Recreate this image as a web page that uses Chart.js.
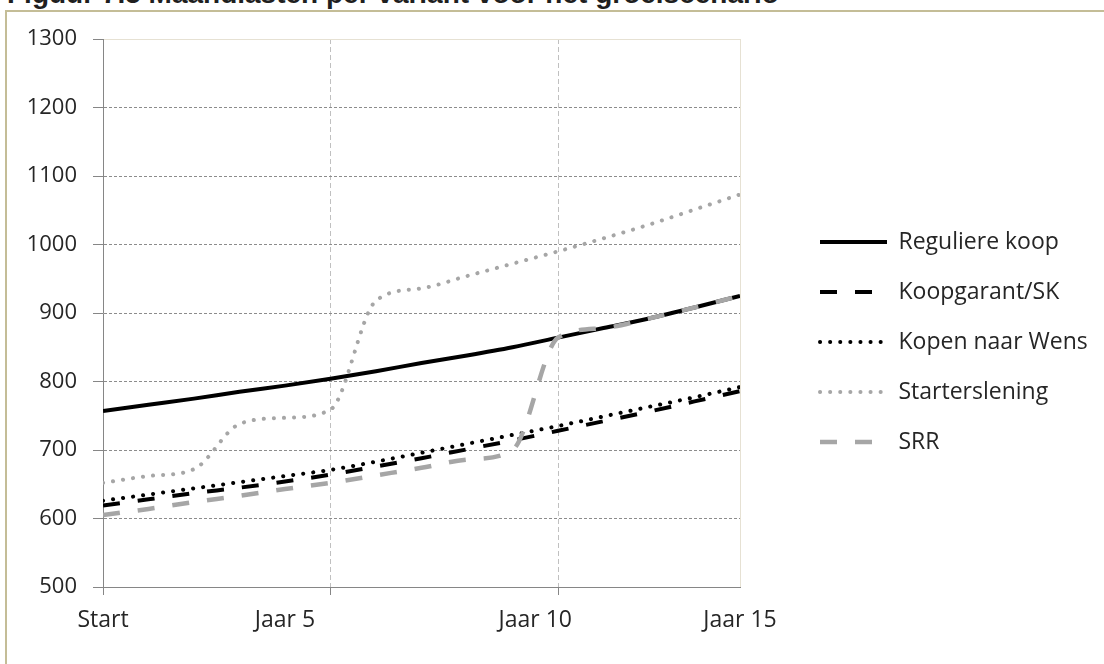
<!DOCTYPE html>
<html>
<head>
<meta charset="utf-8">
<script src="https://cdn.jsdelivr.net/npm/chart.js@4.4.1/dist/chart.umd.min.js"></script>
<style>
  html, body { margin: 0; padding: 0; background: #ffffff; overflow: hidden; }
  #wrap { position: relative; width: 1104px; height: 664px; overflow: hidden; background: #ffffff; }
  #title { position: absolute; left: 7px; top: -20px; font: bold 28px 'Liberation Sans', Arial, sans-serif; line-height: 28px; color: #1f1f1f; white-space: nowrap; }
  #frame { position: absolute; left: 5px; top: 10px; width: 1120px; height: 720px; border: 2px solid #c4bd97; box-sizing: border-box; }
  #chart { position: absolute; left: 0; top: 0; }
</style>
</head>
<body>
<div id="wrap">
  <div id="title">Figuur 7.5 Maandlasten per variant voor het groeiscenario</div>
  <div id="frame"></div>
  <canvas id="chart" width="1104" height="664"></canvas>
</div>
<script>
// ---- data ----
const years = [0, 1, 2, 3, 4, 5, 6, 7, 8, 9, 10, 11, 12, 13, 14];
const seriesNames = ['Reguliere koop', 'Koopgarant/SK', 'Kopen naar Wens', 'Starterslening', 'SRR'];
const reguliereKoop  = [757, 766, 775, 785, 794, 804, 815, 827, 838, 850, 864, 878, 892, 908, 925];
const koopgarantSK   = [619, 628, 637, 645, 654, 664, 676, 688, 701, 714, 728, 742, 756, 771, 786];
const kopenNaarWens  = [626, 635, 644, 653, 662, 671, 683, 696, 709, 722, 735, 749, 763, 777, 792];
const starterslening = [652, 662, 672, 738, 747, 759, 918, 936, 954, 972, 990, 1009, 1029, 1051, 1073];
const srr            = [605, 614, 624, 633, 643, 652, 663, 674, 686, 700, 864, 878, 892, 908, 925];
const tickLabels     = ['Start', 'Jaar 5', 'Jaar 10', 'Jaar 15'];
const tickLabelAt    = [0, 4, 9.5, 14];      // axis values where the labels sit
const gridAt         = [0, 5, 10, 14];       // axis values of x tick marks / grid lines
const yMin = 500, yMax = 1300, yStep = 100;

const FONT = "'Open Sans', 'Noto Sans', sans-serif";
const TEXT = '#262626';
const AXIS = '#868686';
const BLACK = '#000000';
const GREY = '#a6a6a6';

const legendPlacer = {
  id: 'legendPlacer',
  beforeLayout(chart) {
    const lg = chart.legend;
    if (lg && !lg._wrappedFit) {
      const orig = lg.fit.bind(lg);
      lg.fit = function () { orig(); this.width = 364; };
      lg._wrappedFit = true;
    }
  },
  afterLayout(chart) {
    const lg = chart.legend;
    if (lg) { lg.left += 53; lg.right += 53; }
  }
};

const ctx = document.getElementById('chart').getContext('2d');
new Chart(ctx, {
  type: 'line',
  data: {
    labels: years,
    datasets: [
      { label: seriesNames[0], data: reguliereKoop, borderColor: BLACK, backgroundColor: BLACK, borderWidth: 4, order: 5 },
      { label: seriesNames[1], data: koopgarantSK, borderColor: BLACK, backgroundColor: BLACK, borderWidth: 4, borderDash: [17, 18], order: 4 },
      { label: seriesNames[2], data: kopenNaarWens, borderColor: BLACK, backgroundColor: BLACK, borderWidth: 4, borderDash: [0.1, 10], borderCapStyle: 'round', order: 3 },
      { label: seriesNames[3], data: starterslening, borderColor: GREY, backgroundColor: GREY, borderWidth: 4, borderDash: [0.1, 10], borderCapStyle: 'round', order: 2 },
      { label: seriesNames[4], data: srr, borderColor: GREY, backgroundColor: GREY, borderWidth: 4.5, borderDash: [17, 18], order: 1 }
    ]
  },
  options: {
    responsive: false,
    animation: false,
    devicePixelRatio: 1,
    layout: { padding: { top: 39, bottom: 19, left: 0, right: 0 } },
    elements: {
      point: { radius: 0, hoverRadius: 0 },
      line: { cubicInterpolationMode: 'monotone', fill: false }
    },
    plugins: {
      tooltip: { enabled: false },
      title: { display: false },
      legend: {
        position: 'right',
        labels: {
          usePointStyle: true,
          pointStyleWidth: 67,
          boxWidth: 67,
          padding: 27,
          color: TEXT,
          font: { family: FONT, size: 23 },
          generateLabels(chart) {
            return chart.data.datasets.map((ds, i) => ({
              text: ds.label,
              fillStyle: ds.borderColor,
              strokeStyle: ds.borderColor,
              lineWidth: ds.borderWidth,
              lineDash: ds.borderDash || [],
              lineCap: ds.borderCapStyle || 'butt',
              pointStyle: 'line',
              fontColor: TEXT,
              hidden: false,
              datasetIndex: i
            }));
          }
        }
      }
    },
    scales: {
      x: {
        type: 'linear',
        position: 'bottom',
        weight: 1,
        min: years[0],
        max: years[years.length - 1],
        afterBuildTicks(scale) { scale.ticks = gridAt.map(v => ({ value: v })); },
        ticks: { display: false },
        grid: {
          lineWidth: 1,
          tickLength: 8,
          color(c) {
            const v = c.tick ? c.tick.value : null;
            if (v === 5 || v === 10) return '#c0c0c0';
            if (v === 14) return '#e6e1d3';
            return 'rgba(0,0,0,0)';
          },
          tickColor(c) {
            const v = c.tick ? c.tick.value : null;
            return v === 14 ? 'rgba(0,0,0,0)' : AXIS;
          }
        },
        border: {
          display: true,
          color: AXIS,
          width: 1,
          dash(c) {
            const v = c.tick ? c.tick.value : null;
            return (v === 5 || v === 10) ? [5, 3] : [];
          }
        }
      },
      x2: {
        type: 'linear',
        position: 'bottom',
        weight: 2,
        min: years[0],
        max: years[years.length - 1],
        afterBuildTicks(scale) { scale.ticks = tickLabelAt.map(v => ({ value: v })); },
        grid: { display: false, drawTicks: false, drawOnChartArea: false },
        border: { display: false },
        ticks: {
          autoSkip: false,
          maxRotation: 0,
          padding: 17,
          color: TEXT,
          font: { family: FONT, size: 23, lineHeight: '16px' },
          callback(value, index) { return tickLabels[index]; }
        }
      },
      y: {
        type: 'linear',
        position: 'left',
        min: yMin,
        max: yMax,
        afterFit(scale) { scale.width = 103; },
        ticks: {
          stepSize: yStep,
          padding: 16,
          color: TEXT,
          font: { family: FONT, size: 22 },
          callback(value) { return String(value); }
        },
        grid: {
          lineWidth: 1,
          tickLength: 10,
          color(c) {
            const v = c.tick ? c.tick.value : null;
            if (v === yMin) return 'rgba(0,0,0,0)';
            if (v === yMax) return '#e6e1d3';
            return '#8c8c8c';
          },
          tickColor: AXIS
        },
        border: {
          display: true,
          color: AXIS,
          width: 1,
          dash(c) {
            const v = c.tick ? c.tick.value : null;
            return v === yMax ? [] : [3, 2];
          }
        }
      }
    }
  },
  plugins: [legendPlacer]
});
</script>
</body>
</html>
